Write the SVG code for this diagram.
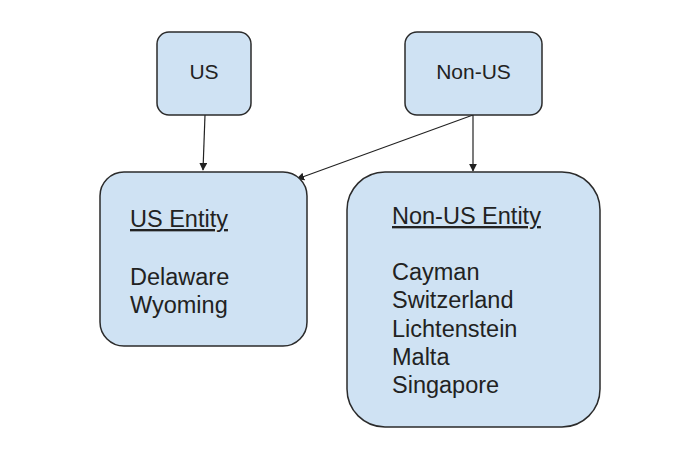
<svg xmlns="http://www.w3.org/2000/svg" width="686" height="458" viewBox="0 0 686 458">
<defs>
<style>
.box{fill:#cfe2f3;stroke:#2b2b2b;stroke-width:1.5}
.t{font-family:"Liberation Sans",Arial,sans-serif;fill:#222}
.s{font-size:21px}
.b{font-size:23.5px}
.u{text-decoration:underline}
.c{fill:none;stroke:#222;stroke-width:1.2}
</style>
<marker id="ah" viewBox="0 0 10 10" refX="9" refY="5" markerWidth="8" markerHeight="8" markerUnits="userSpaceOnUse" orient="auto">
<path d="M0,0 L10,5 L0,10 z" fill="#222"/>
</marker>
</defs>
<rect width="686" height="458" fill="#ffffff"/>
<g id="connectors">
<line class="c" x1="205" y1="115" x2="203" y2="170" marker-end="url(#ah)"/>
<line class="c" x1="473" y1="115" x2="473" y2="171" marker-end="url(#ah)"/>
<line class="c" x1="473" y1="115" x2="297" y2="179" marker-end="url(#ah)"/>
</g>
<g id="node-us">
<rect class="box" x="157" y="32" width="94" height="83" rx="12"/>
<text class="t s" x="204" y="79" text-anchor="middle">US</text>
</g>
<g id="node-nonus">
<rect class="box" x="405" y="32" width="137" height="83" rx="12"/>
<text class="t s" x="473.5" y="79" text-anchor="middle">Non-US</text>
</g>
<g id="node-us-entity">
<rect class="box" x="100" y="172" width="207" height="174" rx="24"/>
<text class="t b u" x="130" y="227">US Entity</text>
<text class="t b" x="130" y="285">Delaware</text>
<text class="t b" x="130" y="313">Wyoming</text>
</g>
<g id="node-nonus-entity">
<rect class="box" x="347" y="172" width="253" height="255" rx="38"/>
<text class="t b u" x="392" y="224">Non-US Entity</text>
<text class="t b" x="392" y="280">Cayman</text>
<text class="t b" x="392" y="308">Switzerland</text>
<text class="t b" x="392" y="337">Lichtenstein</text>
<text class="t b" x="392" y="365">Malta</text>
<text class="t b" x="392" y="393">Singapore</text>
</g>
</svg>
